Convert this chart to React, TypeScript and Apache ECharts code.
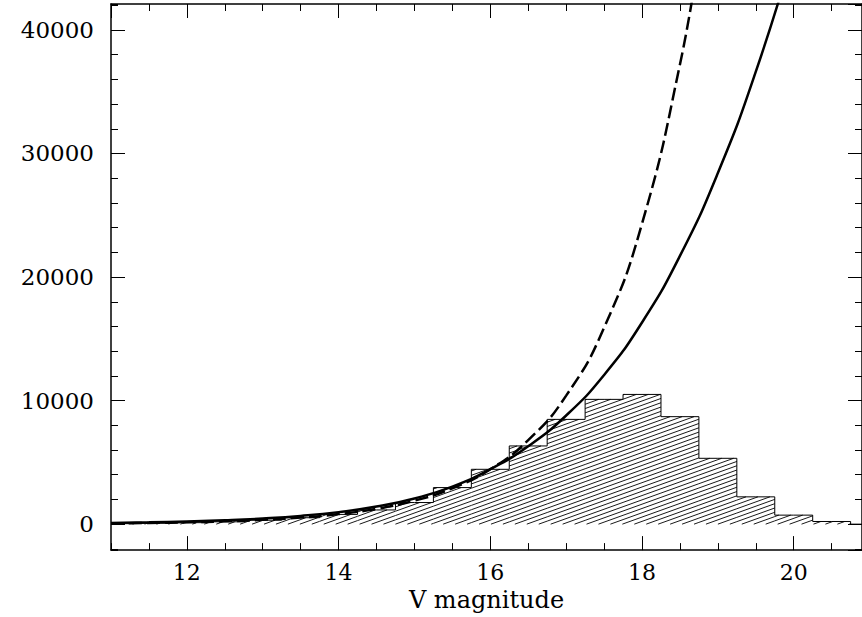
import React, { useEffect, useRef } from "react";
import * as echarts from "echarts";

// Histogram of observed counts (bins 0.5 mag wide, centred on these magnitudes)
const binCenters = [11, 11.5, 12, 12.5, 13, 13.5, 14, 14.5, 15, 15.5, 16, 16.5, 17, 17.5, 18, 18.5, 19, 19.5, 20, 20.5];
const binCounts = [40, 70, 120, 190, 320, 520, 790, 1150, 1750, 2960, 4440, 6330, 8480, 10100, 10500, 8700, 5330, 2210, 730, 215];

// Solid model curve
const modelMags = [11, 11.5, 12, 12.5, 13, 13.5, 14, 14.5, 15, 15.5, 16, 16.5, 17, 17.5, 18, 18.5, 19, 19.5, 20];
const modelCounts = [100, 146, 213, 311, 455, 665, 973, 1422, 2080, 3041, 4446, 6304, 8796, 12075, 16320, 21710, 28420, 36620, 46440];

// Dashed model curve
const steepMags = [11, 11.5, 12, 12.5, 13, 13.5, 14, 14.5, 15, 15.5, 16, 16.5, 17, 17.5, 18, 18.5, 18.75];
const steepCounts = [64, 97, 149, 227, 348, 532, 813, 1243, 1901, 2908, 4446, 6800, 10400, 15905, 24322, 37200, 46000];

const xAxisTitle = "V magnitude";

const X_MIN = 11;
const X_MAX = 20.9;
const Y_MIN = -2100;
const Y_MAX = 42100;

const FONT = "DejaVu Serif";
const INK = "#000";

function makeAxis(kind: "x" | "y", position: string, major: boolean, showLabels: boolean): any {
  const isX = kind === "x";
  return {
    type: "value",
    position,
    min: isX ? X_MIN : Y_MIN,
    max: isX ? X_MAX : Y_MAX,
    splitNumber: major ? 5 : isX ? 20 : 22,
    axisLine: { show: major, onZero: false, lineStyle: { color: INK, width: 1.5 } },
    axisTick: { show: true, inside: true, length: major ? 14 : 7, lineStyle: { color: INK, width: 1 } },
    minorTick: { show: false },
    splitLine: { show: false },
    axisLabel: {
      show: showLabels,
      showMinLabel: false,
      showMaxLabel: false,
      formatter: (v: number) => String(v),
      fontFamily: FONT,
      fontSize: isX ? 22 : 23,
      color: INK,
      margin: isX ? 11 : 17,
    },
  };
}

export default function App() {
  const ref = useRef<HTMLDivElement>(null);

  useEffect(() => {
    if (!ref.current) return;
    const chart = echarts.init(ref.current, undefined, { renderer: "svg" });
    const half = (binCenters[1] - binCenters[0]) / 2;
    const histData = binCenters.map((c, i) => [c, binCounts[i]]);
    const stepData = [...histData, [binCenters[binCenters.length - 1] + 2 * half, 0]];

    const xMain = makeAxis("x", "bottom", true, true);
    xMain.name = xAxisTitle;
    xMain.nameLocation = "middle";
    xMain.nameGap = 36;
    xMain.nameTextStyle = { fontFamily: FONT, fontSize: 24, color: INK };

    chart.setOption({
      animation: false,
      backgroundColor: "#fff",
      grid: { left: 111, top: 4, right: -1, bottom: 66, containLabel: false },
      xAxis: [
        xMain,
        makeAxis("x", "bottom", false, false),
        makeAxis("x", "top", true, false),
        makeAxis("x", "top", false, false),
      ],
      yAxis: [
        makeAxis("y", "left", true, true),
        makeAxis("y", "left", false, false),
        makeAxis("y", "right", true, false),
        makeAxis("y", "right", false, false),
      ],
      series: [
        {
          type: "custom",
          xAxisIndex: 0,
          yAxisIndex: 0,
          silent: true,
          clip: true,
          z: 1,
          data: histData,
          renderItem: (params: any, api: any) => {
            const c = api.value(0);
            const n = api.value(1);
            const p0 = api.coord([c - half, n]);
            const p1 = api.coord([c + half, 0]);
            const cs = params.coordSys;
            const x0 = Math.max(p0[0], cs.x);
            const x1 = Math.min(p1[0], cs.x + cs.width);
            const yTop = p0[1];
            const yBase = p1[1];
            const s = 0.36;
            const sp = 4.3;
            const children: any[] = [];
            const cMin = yTop + s * x0;
            const cMax = yBase + s * x1;
            for (let k = Math.ceil(cMin / sp); k * sp <= cMax; k++) {
              const cc = k * sp;
              const xa = Math.max(x0, (cc - yBase) / s);
              const xb = Math.min(x1, (cc - yTop) / s);
              if (xb > xa) {
                children.push({
                  type: "line",
                  shape: { x1: xa, y1: cc - s * xa, x2: xb, y2: cc - s * xb },
                  style: { stroke: "#1a1a1a", lineWidth: 1 },
                });
              }
            }
            return { type: "group", children };
          },
        },
        {
          type: "line",
          xAxisIndex: 0,
          yAxisIndex: 0,
          step: "middle",
          symbol: "none",
          silent: true,
          z: 2,
          data: stepData,
          lineStyle: { color: INK, width: 1 },
        },
        {
          type: "line",
          xAxisIndex: 0,
          yAxisIndex: 0,
          smooth: true,
          symbol: "none",
          silent: true,
          z: 3,
          data: modelMags.map((m, i) => [m, modelCounts[i]]),
          lineStyle: { color: INK, width: 2.5 },
        },
        {
          type: "line",
          xAxisIndex: 0,
          yAxisIndex: 0,
          smooth: true,
          symbol: "none",
          silent: true,
          z: 3,
          data: steepMags.map((m, i) => [m, steepCounts[i]]),
          lineStyle: { color: INK, width: 2.5, type: [13, 5] },
        },
      ],
    });
    return () => chart.dispose();
  }, []);

  return (
    <div
      ref={ref}
      style={{ position: "absolute", left: 0, top: 0, width: 862, height: 617, background: "#fff" }}
    />
  );
}
